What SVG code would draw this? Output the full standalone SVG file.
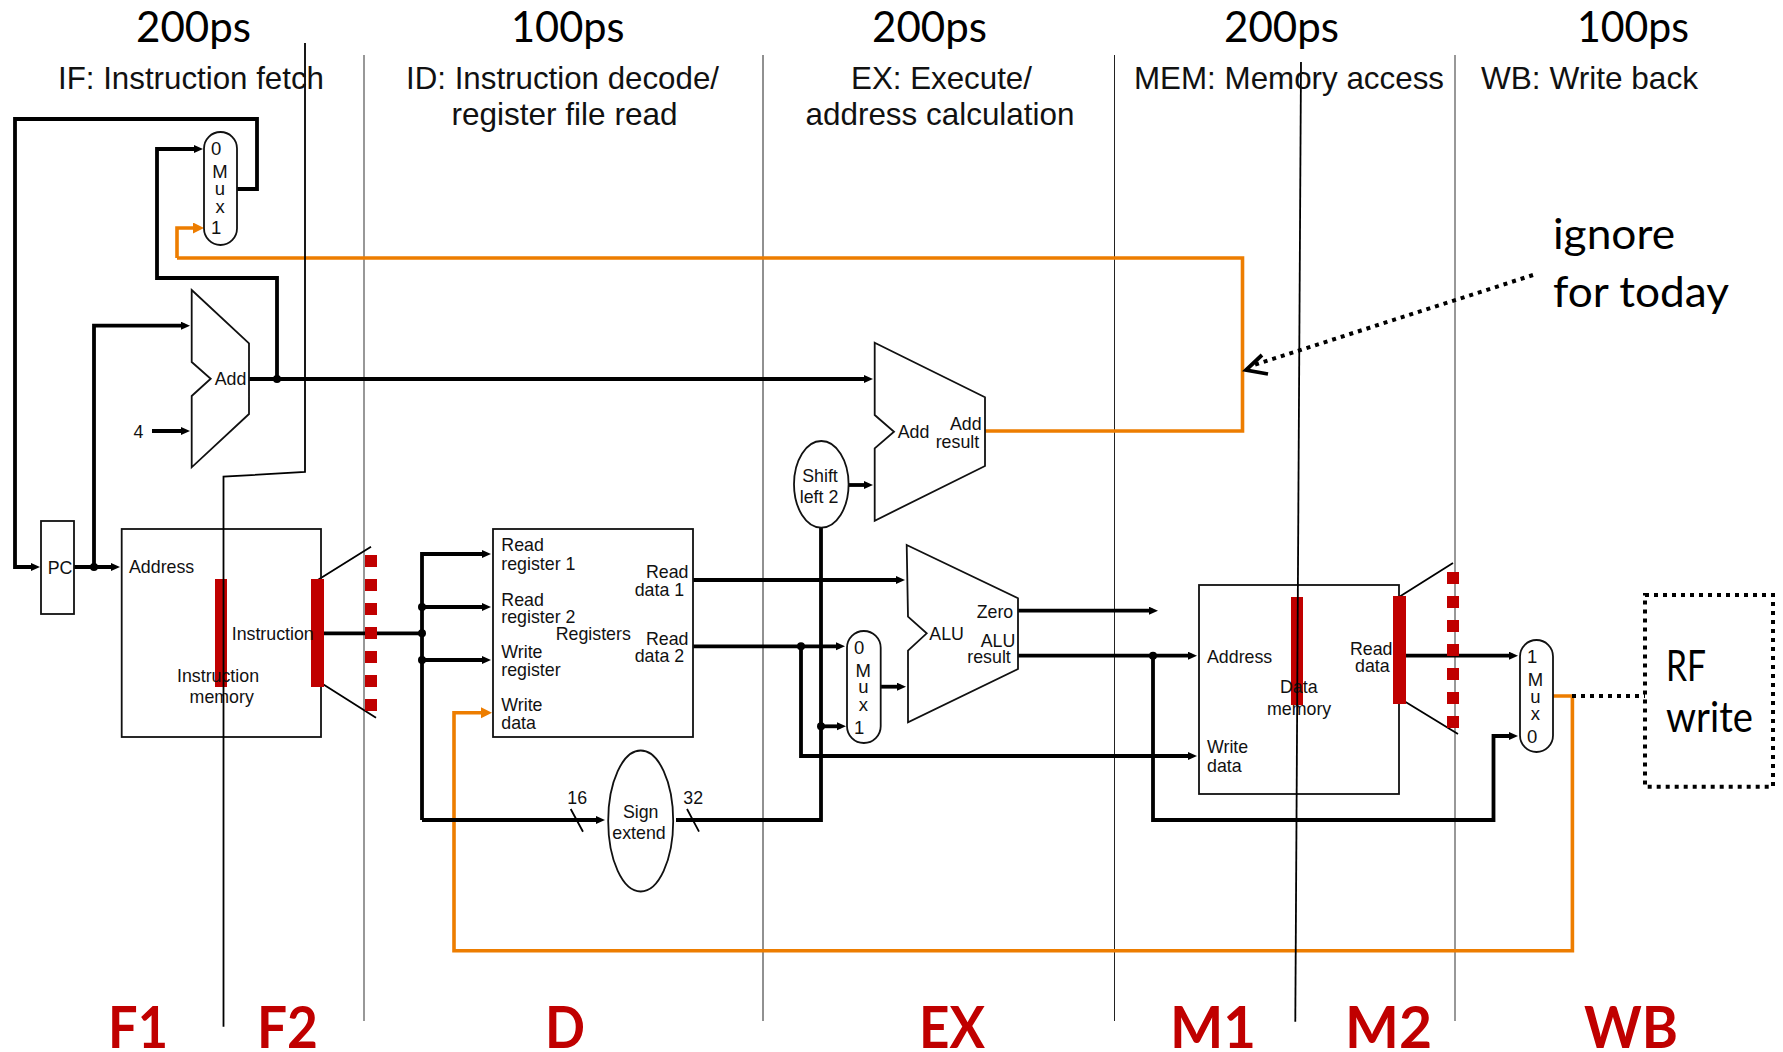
<svg xmlns="http://www.w3.org/2000/svg" width="1783" height="1052" viewBox="0 0 1783 1052">
<style>
text{font-family:"Liberation Sans",Arial,sans-serif;font-size:17.8px;fill:#111}
.m{text-anchor:middle}
.x{font-size:18.5px}
.h{font-family:Lato,"Open Sans",sans-serif;font-size:43px;fill:#000}
.s{font-size:31.5px}
.st{font-family:Lato,"Open Sans",sans-serif;font-weight:700;font-size:57px;fill:#c00000}
.c{fill:none;stroke:#000;stroke-width:3.8;stroke-linejoin:miter}
.a{marker-end:url(#ah)}
.o{fill:none;stroke:#ed7d00;stroke-width:3.6;marker-end:url(#oh)}
.o2{fill:none;stroke:#ed7d00;stroke-width:3.6}
.t{fill:none;stroke:#000;stroke-width:1.8}
.d{fill:none;stroke:#000;stroke-width:4;stroke-dasharray:4 5}
.n{fill:#fff;stroke:#111;stroke-width:1.8}
.f{fill:none;stroke:#111;stroke-width:1.8}
.g1{stroke:#777;stroke-width:1.5}
.g2{stroke:#222;stroke-width:1}
.r{fill:#c00000}
.j{fill:#000}
</style>
<defs>
<marker id="ah" markerUnits="userSpaceOnUse" markerWidth="10" markerHeight="9" refX="4" refY="4" orient="auto"><path d="M0,0L9,4L0,8Z" fill="#000"/></marker>
<marker id="oh" markerUnits="userSpaceOnUse" markerWidth="12" markerHeight="12" refX="5" refY="5.5" orient="auto"><path d="M0,0L11,5.5L0,11Z" fill="#ed7d00"/></marker>
</defs>
<g id="stage-lines">
<path class="g1" d="M364,55V1021M1455,55V1021"/>
<path class="g2" d="M763,55V1021M1114.5,55V1021"/>
</g>
<g id="connectors">
<path class="o" d="M177,258V228H198"/>
<path class="o2" d="M985,431H1242.5V258H177"/>
<path class="o" d="M1553,696H1572.4V950.7H454V712.7H486"/>
<path class="d" d="M1572,696H1645"/>
<path class="d" d="M1533,275L1254,365"/>
<path class="c" d="M1262,355L1246,370L1268,374"/>
<path class="c a" d="M237,189H257V119H15V567H35"/>
<path class="c a" d="M277,379V278H157V149H198"/>
<path class="c a" d="M249,379H868"/>
<path class="c a" d="M94,567V325.7H185"/>
<path class="c a" d="M152,431H185"/>
<path class="c a" d="M74,567H115"/>
<path class="c a" d="M849,485H868"/>
<path class="c" d="M324,633.3H422"/>
<path class="c a" d="M422,820V554H486"/>
<path class="c a" d="M422,607H486"/>
<path class="c a" d="M422,660H486"/>
<path class="c a" d="M422,820H600"/>
<path class="c" d="M676,820H821V528"/>
<path class="c a" d="M821,726.3H841"/>
<path class="c a" d="M693,580H900"/>
<path class="c a" d="M693,646.3H840"/>
<path class="c a" d="M801,646V756H1192"/>
<path class="c a" d="M881,686.7H901"/>
<path class="c a" d="M1018,610.7H1153"/>
<path class="c a" d="M1018,655.7H1192"/>
<path class="c a" d="M1153,656V820H1493.5V736H1513"/>
<path class="c a" d="M1406,655.7H1513"/>
<path class="t" d="M570.7,809L583,831.7M687,809L699,831.7"/>
<g class="j">
<circle cx="277" cy="379" r="4"/><circle cx="94" cy="567" r="4"/><circle cx="422" cy="607" r="4"/><circle cx="422" cy="633.3" r="4"/><circle cx="422" cy="660" r="4"/><circle cx="801" cy="646.3" r="4"/><circle cx="821" cy="726.3" r="4"/><circle cx="1153" cy="655.7" r="4"/>
</g>
</g>
<g id="pipeline-registers">
<path class="t" d="M317.7,580L371,546.7M322.7,684L376,717.7"/>
<g class="r">
<rect x="365" y="555" width="12" height="12"/><rect x="365" y="579" width="12" height="12"/><rect x="365" y="603" width="12" height="12"/><rect x="365" y="627" width="12" height="12"/><rect x="365" y="651" width="12" height="12"/><rect x="365" y="675" width="12" height="12"/><rect x="365" y="699" width="12" height="12"/>
</g>
<path class="t" d="M1399,597L1453,563M1404,701L1458,734"/>
<g class="r">
<rect x="1447" y="572" width="12" height="12"/><rect x="1447" y="596" width="12" height="12"/><rect x="1447" y="620" width="12" height="12"/><rect x="1447" y="644" width="12" height="12"/><rect x="1447" y="668" width="12" height="12"/><rect x="1447" y="692" width="12" height="12"/><rect x="1447" y="716" width="12" height="12"/>
</g>
</g>
<g id="pc-mux">
<rect class="n" x="204" y="132" width="33" height="113" rx="16.5"/>
<text class="x" x="211" y="155">0</text><text class="m x" x="220" y="177.7">M</text><text class="m x" x="220" y="195">u</text><text class="m x" x="220" y="212.7">x</text><text class="x" x="211" y="234">1</text>
</g>
<g id="pc-adder">
<path class="n" d="M191.7,290L249,343.3V414L191.7,467.3V396L210.7,378.7L191.7,362Z"/>
<text x="214.7" y="385">Add</text>
</g>
<g id="const-4"><text x="133.5" y="437.7">4</text></g>
<g id="pc">
<rect class="n" x="41" y="521" width="33" height="93"/>
<text x="47.7" y="573.5">PC</text>
</g>
<g id="instruction-memory">
<rect class="f" x="121.7" y="529" width="199.3" height="208"/>
<rect class="r" x="215" y="579" width="12" height="108"/>
<rect class="r" x="311" y="579" width="13" height="108"/>
<text x="129" y="572.5">Address</text>
<text x="231.7" y="640">Instruction</text>
<text class="m" x="218" y="681.7">Instruction</text>
<text class="m" x="221.7" y="702.7">memory</text>
</g>
<g id="registers">
<rect class="n" x="493" y="529" width="200" height="208"/>
<text x="501.3" y="550.7">Read</text><text x="501.3" y="570">register 1</text>
<text x="501.3" y="606">Read</text><text x="501.3" y="622.7">register 2</text>
<text x="555.7" y="640">Registers</text>
<text x="501.3" y="657.7">Write</text><text x="501.3" y="676">register</text>
<text x="501.3" y="710.7">Write</text><text x="501.3" y="729">data</text>
<text x="646" y="578">Read</text><text x="634.7" y="596">data 1</text>
<text x="646" y="645">Read</text><text x="634.7" y="662.3">data 2</text>
</g>
<g id="sign-extend">
<ellipse class="n" cx="640.7" cy="821" rx="32.5" ry="70.5"/>
<text class="m" x="640.7" y="818">Sign</text><text class="m" x="639" y="839">extend</text>
<text x="567.3" y="804">16</text><text x="683.3" y="804">32</text>
</g>
<g id="shift-left-2">
<ellipse class="n" cx="821.3" cy="484.3" rx="27.3" ry="43.3"/>
<text class="m" x="820" y="481.5">Shift</text><text class="m" x="819" y="502.5">left 2</text>
</g>
<g id="branch-adder">
<path class="n" d="M874.7,342.7L985,397.3V466L874.7,520.7V448.3L894,431.7L874.7,415Z"/>
<text x="897.7" y="437.5">Add</text><text x="950" y="430">Add</text><text x="935.7" y="448">result</text>
</g>
<g id="alu-mux">
<rect class="n" x="847" y="631" width="33.7" height="112" rx="16.8"/>
<text class="x" x="854" y="654">0</text><text class="m x" x="863.3" y="676.7">M</text><text class="m x" x="863.3" y="692.7">u</text><text class="m x" x="863.3" y="711">x</text><text class="x" x="854" y="734">1</text>
</g>
<g id="alu">
<path class="n" d="M906.7,545L1018,598.3V669L908,722.3V650.7L926.7,633.3L908,616.7Z"/>
<text x="929.3" y="640">ALU</text><text x="976.7" y="617.5">Zero</text><text x="980.7" y="646.7">ALU</text><text x="967.3" y="662.7">result</text>
</g>
<g id="data-memory">
<rect class="f" x="1199" y="585" width="200" height="209"/>
<rect class="r" x="1291" y="597" width="12" height="108"/>
<rect class="r" x="1393" y="596" width="13" height="108"/>
<text x="1207" y="662.5">Address</text>
<text x="1207" y="753">Write</text><text x="1207" y="771.7">data</text>
<text x="1350" y="654.5">Read</text><text x="1355" y="671.7">data</text>
<text x="1280" y="692.7">Data</text><text x="1267" y="715">memory</text>
</g>
<g id="wb-mux">
<rect class="n" x="1520" y="640" width="33" height="112" rx="16.5"/>
<text class="x" x="1527" y="662.7">1</text><text class="m x" x="1535.4" y="685.7">M</text><text class="m x" x="1535.4" y="702.7">u</text><text class="m x" x="1535.4" y="720">x</text><text class="x" x="1527" y="742.7">0</text>
</g>
<g id="rf-write">
<rect class="d" x="1645" y="595" width="128" height="191.7"/>
<text class="h" x="1666" y="681" textLength="40" lengthAdjust="spacingAndGlyphs">RF</text>
<text class="h" x="1666" y="732" textLength="87" lengthAdjust="spacingAndGlyphs">write</text>
</g>
<g id="stage-cuts">
<path class="t" d="M305,43V472L223.5,476.7V1026.7"/>
<path class="t" d="M1301,62L1295.3,1021.7"/>
</g>
<g id="headers">
<text class="h" x="136" y="42" textLength="115" lengthAdjust="spacingAndGlyphs">200ps</text>
<text class="h" x="511" y="42" textLength="113.5" lengthAdjust="spacingAndGlyphs">100ps</text>
<text class="h" x="872" y="42" textLength="115" lengthAdjust="spacingAndGlyphs">200ps</text>
<text class="h" x="1224" y="42" textLength="115" lengthAdjust="spacingAndGlyphs">200ps</text>
<text class="h" x="1577" y="42" textLength="112" lengthAdjust="spacingAndGlyphs">100ps</text>
<text class="s" x="58" y="89" textLength="266" lengthAdjust="spacingAndGlyphs">IF: Instruction fetch</text>
<text class="s" x="406" y="89" textLength="313" lengthAdjust="spacingAndGlyphs">ID: Instruction decode/</text>
<text class="s" x="451.5" y="125" textLength="226" lengthAdjust="spacingAndGlyphs">register file read</text>
<text class="s" x="851" y="89" textLength="181" lengthAdjust="spacingAndGlyphs">EX: Execute/</text>
<text class="s" x="805.5" y="125" textLength="269" lengthAdjust="spacingAndGlyphs">address calculation</text>
<text class="s" x="1134" y="89" textLength="310" lengthAdjust="spacingAndGlyphs">MEM: Memory access</text>
<text class="s" x="1481" y="89" textLength="217" lengthAdjust="spacingAndGlyphs">WB: Write back</text>
</g>
<g id="note">
<text class="h" x="1553" y="249" textLength="122" lengthAdjust="spacingAndGlyphs">ignore</text>
<text class="h" x="1553" y="307" textLength="176" lengthAdjust="spacingAndGlyphs">for today</text>
</g>
<g id="stage-names">
<text class="st" x="108" y="1048.3" textLength="60" lengthAdjust="spacingAndGlyphs">F1</text>
<text class="st" x="257" y="1048.3" textLength="61" lengthAdjust="spacingAndGlyphs">F2</text>
<text class="st" x="545" y="1048.3" textLength="40" lengthAdjust="spacingAndGlyphs">D</text>
<text class="st" x="919" y="1048.3" textLength="66" lengthAdjust="spacingAndGlyphs">EX</text>
<text class="st" x="1170" y="1048.3" textLength="86" lengthAdjust="spacingAndGlyphs">M1</text>
<text class="st" x="1345" y="1048.3" textLength="87" lengthAdjust="spacingAndGlyphs">M2</text>
<text class="st" x="1584" y="1048.3" textLength="94" lengthAdjust="spacingAndGlyphs">WB</text>
</g>
</svg>
